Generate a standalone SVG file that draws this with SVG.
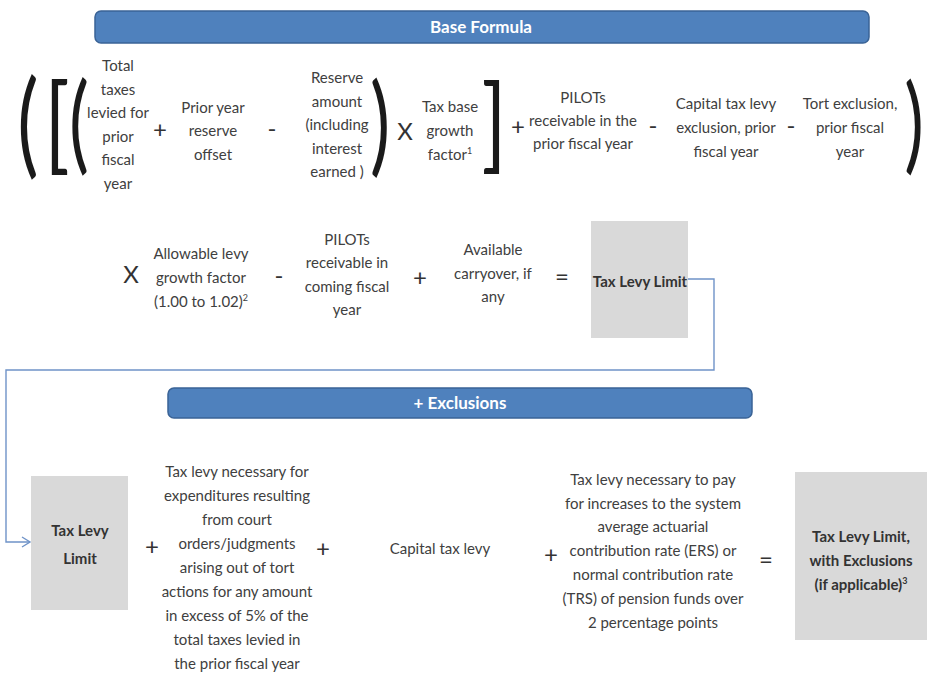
<svg xmlns="http://www.w3.org/2000/svg" width="932" height="676" viewBox="0 0 932 676">
<style>
.t{font-family:Lato,"Open Sans","Liberation Sans",sans-serif;font-size:15px;fill:#404040;text-anchor:middle}
.b{font-weight:bold;fill:#333333}
.op{font-family:Lato,"Open Sans","Liberation Sans",sans-serif;font-size:24px;fill:#333333;text-anchor:middle}
.br{font-family:Lato,"Open Sans","Liberation Sans",sans-serif;fill:#1a1a1a;text-anchor:middle}
.bar{fill:#4f81bd;stroke:#3a6396;stroke-width:1.5}
.bt{font-family:Lato,"Open Sans","Liberation Sans",sans-serif;font-size:17px;font-weight:bold;fill:#ffffff;text-anchor:middle}
.box{fill:#d9d9d9}
.sup{font-size:9px}
.conn{fill:none;stroke:#6f93c8;stroke-width:1.4}
</style>
<defs>
<marker id="arr" markerUnits="userSpaceOnUse" markerWidth="12" markerHeight="12" refX="9" refY="6" orient="auto">
<path d="M1,1 L9,6 L1,11" fill="none" stroke="#6f93c8" stroke-width="1.4"/>
</marker>
</defs>

<g id="header-base">
<rect class="bar" x="95" y="11" width="774" height="32" rx="6"/>
<text class="bt" x="481" y="33">Base Formula</text>
</g>

<g id="brackets">
<text class="br" font-size="114" transform="translate(28,163) scale(0.7,1)">(</text>
<text class="br" font-size="104" transform="translate(57,160) scale(0.8,1)">[</text>
<text class="br" font-size="107" transform="translate(79,160) scale(0.7,1)">(</text>
<text class="br" font-size="108" transform="translate(380,162) scale(0.7,1)">)</text>
<text class="br" font-size="102" transform="translate(494,159) scale(0.8,1)">]</text>
<text class="br" font-size="105" transform="translate(914,160) scale(0.7,1)">)</text>
</g>

<g id="n-total-taxes">
<text class="t" x="118" y="71">Total</text>
<text class="t" x="118" y="94.5">taxes</text>
<text class="t" x="118" y="118">levied for</text>
<text class="t" x="118" y="141.5">prior</text>
<text class="t" x="118" y="165">fiscal</text>
<text class="t" x="118" y="188.5">year</text>
</g>
<text class="op" x="160" y="138">+</text>
<g id="n-prior-reserve">
<text class="t" x="213" y="112.5">Prior year</text>
<text class="t" x="213" y="136">reserve</text>
<text class="t" x="213" y="159.5">offset</text>
</g>
<text class="op" x="272" y="137">-</text>
<g id="n-reserve-amount">
<text class="t" x="337" y="83">Reserve</text>
<text class="t" x="337" y="106.5">amount</text>
<text class="t" x="337" y="130">(including</text>
<text class="t" x="337" y="153.5">interest</text>
<text class="t" x="337" y="177">earned )</text>
</g>
<text class="op" x="405" y="140" font-size="21">X</text>
<g id="n-tax-base">
<text class="t" x="450" y="112">Tax base</text>
<text class="t" x="450" y="136">growth</text>
<text class="t" x="450" y="160">factor<tspan class="sup" dy="-6">1</tspan></text>
</g>
<text class="op" x="518" y="135">+</text>
<g id="n-pilots-prior">
<text class="t" x="583" y="103">PILOTs</text>
<text class="t" x="583" y="126">receivable in the</text>
<text class="t" x="583" y="149">prior fiscal year</text>
</g>
<text class="op" x="653" y="134">-</text>
<g id="n-capital-prior">
<text class="t" x="726" y="109">Capital tax levy</text>
<text class="t" x="726" y="133">exclusion, prior</text>
<text class="t" x="726" y="157">fiscal year</text>
</g>
<text class="op" x="791" y="134">-</text>
<g id="n-tort-prior">
<text class="t" x="850" y="109">Tort exclusion,</text>
<text class="t" x="850" y="133">prior fiscal</text>
<text class="t" x="850" y="157">year</text>
</g>

<text class="op" x="131" y="283" font-size="21">X</text>
<g id="n-allowable">
<text class="t" x="201" y="259">Allowable levy</text>
<text class="t" x="201" y="283">growth factor</text>
<text class="t" x="201" y="307">(1.00 to 1.02)<tspan class="sup" dy="-6">2</tspan></text>
</g>
<text class="op" x="279" y="284">-</text>
<g id="n-pilots-coming">
<text class="t" x="347" y="245">PILOTs</text>
<text class="t" x="347" y="268">receivable in</text>
<text class="t" x="347" y="292">coming fiscal</text>
<text class="t" x="347" y="315">year</text>
</g>
<text class="op" x="420" y="286">+</text>
<g id="n-carryover">
<text class="t" x="493" y="255">Available</text>
<text class="t" x="493" y="279">carryover, if</text>
<text class="t" x="493" y="302">any</text>
</g>
<text class="op" x="562" y="285">=</text>
<g id="n-tax-levy-limit-1">
<rect class="box" x="591" y="221" width="97" height="117"/>
<text class="t b" x="640" y="287" font-size="14.5">Tax Levy Limit</text>
</g>

<g id="connectors">
<path class="conn" d="M688,279 H714 V370 H6 V542 H30" marker-end="url(#arr)"/>
</g>

<g id="header-exclusions">
<rect class="bar" x="168" y="388" width="584" height="30" rx="6"/>
<text class="bt" x="460" y="409">+ Exclusions</text>
</g>

<g id="n-tax-levy-limit-2">
<rect class="box" x="31" y="476" width="97" height="134"/>
<text class="t b" x="80" y="536" font-size="17">Tax Levy</text>
<text class="t b" x="80" y="564" font-size="17">Limit</text>
</g>
<text class="op" x="152" y="555">+</text>
<g id="n-tort-levy">
<text class="t" x="237" y="477">Tax levy necessary for</text>
<text class="t" x="237" y="501">expenditures resulting</text>
<text class="t" x="237" y="525">from court</text>
<text class="t" x="237" y="549">orders/judgments</text>
<text class="t" x="237" y="572.5">arising out of tort</text>
<text class="t" x="237" y="596.5">actions for any amount</text>
<text class="t" x="237" y="620.5">in excess of 5% of the</text>
<text class="t" x="237" y="644.5">total taxes levied in</text>
<text class="t" x="237" y="668.5">the prior fiscal year</text>
</g>
<text class="op" x="323" y="557">+</text>
<g id="n-capital-levy">
<text class="t" x="440" y="554">Capital tax levy</text>
</g>
<text class="op" x="551" y="563">+</text>
<g id="n-pension">
<text class="t" x="653" y="485">Tax levy necessary to pay</text>
<text class="t" x="653" y="508.5">for increases to the system</text>
<text class="t" x="653" y="532">average actuarial</text>
<text class="t" x="653" y="556">contribution rate (ERS) or</text>
<text class="t" x="653" y="580">normal contribution rate</text>
<text class="t" x="653" y="604">(TRS) of pension funds over</text>
<text class="t" x="653" y="628">2 percentage points</text>
</g>
<text class="op" x="766" y="568">=</text>
<g id="n-final">
<rect class="box" x="795" y="472" width="132" height="168"/>
<text class="t b" x="861" y="542">Tax Levy Limit,</text>
<text class="t b" x="861" y="566">with Exclusions</text>
<text class="t b" x="861" y="590">(if applicable)<tspan class="sup" dy="-6">3</tspan></text>
</g>
</svg>
